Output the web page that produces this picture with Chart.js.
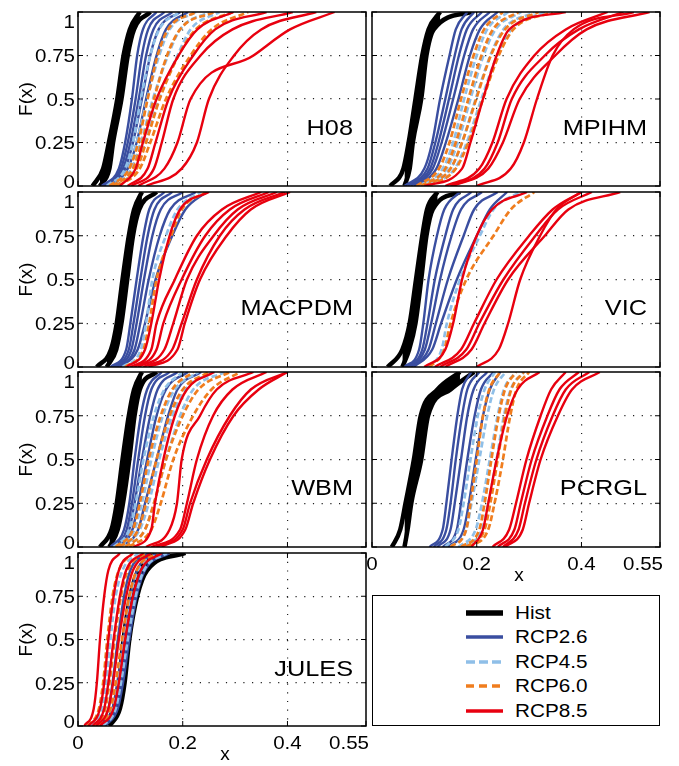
<!DOCTYPE html>
<html>
<head>
<meta charset="utf-8">
<script src="https://cdn.jsdelivr.net/npm/chart.js@4.4.1/dist/chart.umd.min.js"></script>
<style>
body { margin: 0; background: #fff; width: 679px; height: 766px; position: relative; overflow: hidden; font-family: "Liberation Sans", Arial, sans-serif; }
canvas.panel { position: absolute; left: 0; top: 0; }
#legend { position: absolute; left: 372px; top: 595px; width: 286px; height: 129px; border: 1.5px solid #000; }
.lrow { position: absolute; height: 24px; }
.lrow span { position: absolute; left: 49px; top: 0; line-height: 24px; font-size: 18px; transform: scaleX(1.15); transform-origin: left center; white-space: nowrap; }
.lrow svg { position: absolute; left: 0; top: 0; }
</style>
</head>
<body>
<div id="legend"></div>
<script>
const fLevels = [0, 0.1, 0.25, 0.5, 0.75, 0.9, 1];
const xTicks = [0, 0.2, 0.4, 0.55];
const xTickLabels = ['0', '0.2', '0.4', '0.55'];
const yTicks = [0, 0.25, 0.5, 0.75, 1];
const yTickLabels = ['0', '0.25', '0.5', '0.75', '1'];
const scenarios = ['Hist', 'RCP2.6', 'RCP4.5', 'RCP6.0', 'RCP8.5'];

// H08
const h08Hist = [[0.028, 0.048, 0.059, 0.075, 0.087, 0.099, 0.118], [0.042, 0.060, 0.067, 0.083, 0.095, 0.107, 0.138]];
const h08Rcp26 = [
  [0.045, 0.078, 0.090, 0.103, 0.113, 0.124, 0.150], [0.050, 0.082, 0.095, 0.110, 0.122, 0.134, 0.165],
  [0.055, 0.086, 0.100, 0.116, 0.130, 0.144, 0.180], [0.060, 0.090, 0.105, 0.122, 0.138, 0.154, 0.195],
  [0.065, 0.095, 0.112, 0.130, 0.150, 0.168, 0.210]];
const h08Rcp45 = [
  [0.055, 0.090, 0.105, 0.120, 0.138, 0.155, 0.195], [0.060, 0.096, 0.112, 0.132, 0.155, 0.175, 0.225],
  [0.066, 0.102, 0.120, 0.143, 0.172, 0.195, 0.250], [0.072, 0.110, 0.128, 0.155, 0.190, 0.215, 0.270]];
const h08Rcp60 = [
  [0.060, 0.098, 0.115, 0.133, 0.152, 0.172, 0.225], [0.066, 0.105, 0.122, 0.145, 0.170, 0.195, 0.260],
  [0.072, 0.112, 0.130, 0.156, 0.192, 0.225, 0.295], [0.078, 0.118, 0.138, 0.168, 0.215, 0.255, 0.325]];
const h08Rcp85 = [
  [0.080, 0.110, 0.124, 0.150, 0.192, 0.228, 0.297], [0.095, 0.133, 0.148, 0.173, 0.220, 0.262, 0.360],
  [0.102, 0.145, 0.160, 0.182, 0.234, 0.295, 0.410], [0.115, 0.165, 0.190, 0.215, 0.335, 0.405, 0.490],
  [0.130, 0.198, 0.227, 0.250, 0.298, 0.350, 0.455]];

// MPIHM
const mpihmHist = [[0.035, 0.060, 0.070, 0.083, 0.096, 0.108, 0.130], [0.062, 0.072, 0.078, 0.094, 0.104, 0.118, 0.190]];
const mpihmRcp26 = [
  [0.062, 0.100, 0.115, 0.130, 0.148, 0.160, 0.182], [0.068, 0.106, 0.121, 0.140, 0.158, 0.171, 0.195],
  [0.074, 0.111, 0.127, 0.147, 0.166, 0.181, 0.210], [0.080, 0.116, 0.133, 0.155, 0.176, 0.193, 0.225],
  [0.086, 0.123, 0.141, 0.165, 0.187, 0.206, 0.240]];
const mpihmRcp45 = [
  [0.090, 0.135, 0.155, 0.176, 0.200, 0.220, 0.260], [0.095, 0.143, 0.164, 0.188, 0.213, 0.236, 0.285],
  [0.100, 0.150, 0.172, 0.198, 0.226, 0.251, 0.310], [0.106, 0.158, 0.181, 0.209, 0.239, 0.266, 0.330]];
const mpihmRcp60 = [
  [0.085, 0.128, 0.148, 0.170, 0.194, 0.214, 0.250], [0.094, 0.140, 0.160, 0.184, 0.209, 0.231, 0.280],
  [0.102, 0.150, 0.172, 0.199, 0.227, 0.254, 0.318], [0.110, 0.160, 0.184, 0.212, 0.242, 0.270, 0.345]];
const mpihmRcp85 = [
  [0.100, 0.172, 0.188, 0.212, 0.238, 0.262, 0.370], [0.140, 0.205, 0.230, 0.257, 0.310, 0.370, 0.450],
  [0.150, 0.215, 0.240, 0.267, 0.330, 0.395, 0.480], [0.155, 0.222, 0.250, 0.282, 0.350, 0.410, 0.530],
  [0.200, 0.265, 0.290, 0.315, 0.345, 0.385, 0.500]];

// MACPDM
const macpdmHist = [[0.036, 0.063, 0.074, 0.085, 0.097, 0.107, 0.122], [0.055, 0.073, 0.083, 0.094, 0.105, 0.117, 0.150]];
const macpdmRcp26 = [
  [0.062, 0.092, 0.100, 0.112, 0.125, 0.136, 0.165], [0.066, 0.097, 0.106, 0.119, 0.133, 0.146, 0.180],
  [0.070, 0.102, 0.112, 0.126, 0.142, 0.158, 0.200], [0.075, 0.108, 0.119, 0.135, 0.156, 0.176, 0.225],
  [0.080, 0.114, 0.128, 0.148, 0.180, 0.205, 0.245]];
const macpdmRcp45 = [[0.085, 0.120, 0.130, 0.142, 0.168, 0.190, 0.235]];
const macpdmRcp60 = [[0.090, 0.125, 0.136, 0.150, 0.178, 0.198, 0.245]];
const macpdmRcp85 = [
  [0.093, 0.128, 0.140, 0.155, 0.175, 0.195, 0.250], [0.100, 0.140, 0.150, 0.185, 0.227, 0.275, 0.350],
  [0.108, 0.150, 0.163, 0.198, 0.243, 0.290, 0.365], [0.115, 0.165, 0.182, 0.208, 0.259, 0.305, 0.380],
  [0.125, 0.180, 0.198, 0.227, 0.271, 0.318, 0.395], [0.135, 0.190, 0.204, 0.233, 0.284, 0.330, 0.405]];

// VIC
const vicHist = [[0.030, 0.058, 0.072, 0.084, 0.096, 0.105, 0.125], [0.058, 0.071, 0.083, 0.094, 0.104, 0.116, 0.168]];
const vicRcp26 = [
  [0.062, 0.090, 0.098, 0.108, 0.124, 0.138, 0.168], [0.066, 0.096, 0.106, 0.120, 0.140, 0.155, 0.190],
  [0.070, 0.101, 0.113, 0.130, 0.152, 0.170, 0.210], [0.075, 0.108, 0.122, 0.145, 0.175, 0.195, 0.240],
  [0.080, 0.115, 0.132, 0.162, 0.200, 0.225, 0.258]];
const vicRcp45 = [[0.105, 0.133, 0.143, 0.168, 0.206, 0.232, 0.282]];
const vicRcp60 = [[0.110, 0.138, 0.150, 0.180, 0.232, 0.265, 0.310]];
const vicRcp85 = [
  [0.100, 0.140, 0.155, 0.172, 0.200, 0.229, 0.296], [0.120, 0.170, 0.195, 0.238, 0.300, 0.345, 0.400],
  [0.130, 0.180, 0.205, 0.251, 0.312, 0.355, 0.420], [0.140, 0.190, 0.215, 0.260, 0.330, 0.375, 0.474],
  [0.200, 0.242, 0.260, 0.283, 0.321, 0.352, 0.400]];

// WBM
const wbmHist = [[0.042, 0.064, 0.074, 0.085, 0.097, 0.107, 0.122], [0.060, 0.076, 0.086, 0.098, 0.108, 0.118, 0.150]];
const wbmRcp26 = [
  [0.062, 0.088, 0.098, 0.108, 0.120, 0.132, 0.160], [0.066, 0.093, 0.103, 0.115, 0.128, 0.140, 0.175],
  [0.070, 0.098, 0.108, 0.122, 0.138, 0.152, 0.190], [0.075, 0.104, 0.115, 0.132, 0.150, 0.168, 0.210],
  [0.082, 0.115, 0.128, 0.150, 0.172, 0.190, 0.235]];
const wbmRcp45 = [
  [0.068, 0.098, 0.110, 0.125, 0.145, 0.165, 0.200], [0.075, 0.108, 0.122, 0.140, 0.162, 0.185, 0.230],
  [0.082, 0.118, 0.135, 0.155, 0.180, 0.205, 0.260], [0.090, 0.128, 0.145, 0.168, 0.195, 0.220, 0.280]];
const wbmRcp60 = [
  [0.072, 0.105, 0.118, 0.135, 0.158, 0.180, 0.220], [0.080, 0.115, 0.130, 0.150, 0.175, 0.200, 0.250],
  [0.090, 0.128, 0.145, 0.168, 0.200, 0.230, 0.290], [0.098, 0.140, 0.158, 0.182, 0.220, 0.255, 0.310]];
const wbmRcp85 = [
  [0.106, 0.140, 0.147, 0.163, 0.185, 0.208, 0.260], [0.130, 0.175, 0.189, 0.198, 0.233, 0.265, 0.335],
  [0.140, 0.195, 0.208, 0.227, 0.258, 0.295, 0.360], [0.150, 0.200, 0.214, 0.246, 0.290, 0.330, 0.400],
  [0.160, 0.205, 0.220, 0.252, 0.297, 0.345, 0.400]];

// PCRGL
const pcrglHist = [[0.038, 0.054, 0.064, 0.080, 0.093, 0.125, 0.168], [0.062, 0.068, 0.075, 0.094, 0.107, 0.150, 0.195]];
const pcrglRcp26 = [
  [0.110, 0.135, 0.142, 0.152, 0.163, 0.172, 0.190], [0.118, 0.142, 0.150, 0.160, 0.172, 0.182, 0.205],
  [0.125, 0.150, 0.158, 0.170, 0.182, 0.194, 0.220], [0.135, 0.162, 0.170, 0.182, 0.196, 0.208, 0.232],
  [0.145, 0.175, 0.185, 0.198, 0.212, 0.225, 0.245]];
const pcrglRcp45 = [
  [0.140, 0.165, 0.175, 0.188, 0.202, 0.215, 0.235], [0.150, 0.180, 0.190, 0.205, 0.220, 0.233, 0.255],
  [0.165, 0.198, 0.210, 0.225, 0.240, 0.252, 0.275], [0.175, 0.210, 0.222, 0.238, 0.252, 0.265, 0.290]];
const pcrglRcp60 = [
  [0.150, 0.180, 0.188, 0.200, 0.212, 0.224, 0.245], [0.170, 0.205, 0.215, 0.228, 0.242, 0.254, 0.275],
  [0.180, 0.215, 0.226, 0.240, 0.254, 0.266, 0.290], [0.185, 0.222, 0.234, 0.250, 0.264, 0.276, 0.300]];
const pcrglRcp85 = [
  [0.190, 0.212, 0.222, 0.238, 0.258, 0.278, 0.320], [0.230, 0.262, 0.275, 0.295, 0.322, 0.342, 0.370],
  [0.240, 0.272, 0.284, 0.305, 0.335, 0.358, 0.395], [0.250, 0.280, 0.292, 0.314, 0.345, 0.370, 0.415],
  [0.255, 0.288, 0.300, 0.322, 0.355, 0.382, 0.435]];

// JULES
const julesHist = [[0.042, 0.068, 0.078, 0.087, 0.100, 0.115, 0.150], [0.060, 0.080, 0.089, 0.098, 0.113, 0.132, 0.205]];
const julesRcp26 = [
  [0.035, 0.058, 0.066, 0.076, 0.088, 0.100, 0.135], [0.042, 0.066, 0.075, 0.087, 0.100, 0.113, 0.150],
  [0.048, 0.072, 0.082, 0.094, 0.108, 0.122, 0.165], [0.052, 0.076, 0.086, 0.098, 0.112, 0.128, 0.175]];
const julesRcp45 = [
  [0.025, 0.046, 0.054, 0.062, 0.072, 0.085, 0.115], [0.040, 0.064, 0.074, 0.086, 0.100, 0.115, 0.155],
  [0.048, 0.072, 0.082, 0.095, 0.110, 0.126, 0.170]];
const julesRcp60 = [
  [0.018, 0.040, 0.048, 0.056, 0.066, 0.078, 0.105], [0.030, 0.052, 0.060, 0.070, 0.082, 0.095, 0.130],
  [0.038, 0.062, 0.072, 0.084, 0.098, 0.112, 0.150]];
const julesRcp85 = [
  [0.012, 0.030, 0.036, 0.042, 0.050, 0.058, 0.080], [0.020, 0.042, 0.050, 0.058, 0.068, 0.078, 0.105],
  [0.028, 0.050, 0.058, 0.068, 0.080, 0.092, 0.125], [0.035, 0.058, 0.067, 0.078, 0.092, 0.105, 0.140],
  [0.042, 0.068, 0.078, 0.090, 0.105, 0.120, 0.160]];

// styles per scenario
const lineColors = ['#000000', '#3a4ea0', '#8fbfe8', '#f07d1e', '#e8000f'];
const lineWidths = [4.5, 2.4, 2.7, 2.7, 2.4];
const lineDashes = [[], [], [6, 3], [6, 3], []];

const panels = [
  { name: 'H08', series: [h08Hist, h08Rcp26, h08Rcp45, h08Rcp60, h08Rcp85], box: [78, 366, 12, 186], yLab: true, xLab: false },
  { name: 'MPIHM', series: [mpihmHist, mpihmRcp26, mpihmRcp45, mpihmRcp60, mpihmRcp85], box: [372, 660, 12, 186], yLab: false, xLab: false },
  { name: 'MACPDM', series: [macpdmHist, macpdmRcp26, macpdmRcp45, macpdmRcp60, macpdmRcp85], box: [78, 366, 192, 367], yLab: true, xLab: false },
  { name: 'VIC', series: [vicHist, vicRcp26, vicRcp45, vicRcp60, vicRcp85], box: [372, 660, 192, 367], yLab: false, xLab: false },
  { name: 'WBM', series: [wbmHist, wbmRcp26, wbmRcp45, wbmRcp60, wbmRcp85], box: [78, 366, 372, 547], yLab: true, xLab: false },
  { name: 'PCRGL', series: [pcrglHist, pcrglRcp26, pcrglRcp45, pcrglRcp60, pcrglRcp85], box: [372, 660, 372, 547], yLab: false, xLab: true },
  { name: 'JULES', series: [julesHist, julesRcp26, julesRcp45, julesRcp60, julesRcp85], box: [78, 366, 553, 726], yLab: true, xLab: true }
];

const FONT = '"Liberation Sans", Arial, sans-serif';

function wideText(ctx, text, x, y, align, sx) {
  ctx.save();
  ctx.translate(x, y);
  ctx.scale(sx, 1);
  ctx.textAlign = align;
  ctx.fillText(text, 0, 0);
  ctx.restore();
}

// box, inward ticks and all texts, matlab style
const deco = {
  id: 'deco',
  afterDatasetsDraw(chart, args, opts) {
    const ctx = chart.ctx;
    const a = chart.chartArea;
    const xs = chart.scales.x, ys = chart.scales.y;
    ctx.save();
    ctx.strokeStyle = '#000';
    ctx.lineWidth = 1;
    ctx.beginPath();
    xTicks.forEach(v => {
      const px = xs.getPixelForValue(v);
      ctx.moveTo(px, a.bottom); ctx.lineTo(px, a.bottom - 5);
      ctx.moveTo(px, a.top); ctx.lineTo(px, a.top + 5);
    });
    yTicks.forEach(v => {
      const py = ys.getPixelForValue(v);
      ctx.moveTo(a.left, py); ctx.lineTo(a.left + 5, py);
      ctx.moveTo(a.right, py); ctx.lineTo(a.right - 5, py);
    });
    ctx.stroke();
    ctx.lineWidth = 1.5;
    ctx.strokeRect(a.left, a.top, a.right - a.left, a.bottom - a.top);

    ctx.fillStyle = '#000';
    ctx.textBaseline = 'alphabetic';
    ctx.font = '19px ' + FONT;
    if (opts.yLab) {
      yTicks.forEach((v, i) => {
        let cy = ys.getPixelForValue(v);
        if (v === 1) cy = a.top + 9;
        if (v === 0) cy = a.bottom - 5;
        wideText(ctx, yTickLabels[i], a.left - 3, cy + 6.8, 'right', 1.08);
      });
      ctx.save();
      ctx.translate(27, (a.top + a.bottom) / 2);
      ctx.rotate(-Math.PI / 2);
      ctx.textAlign = 'center';
      ctx.textBaseline = 'middle';
      ctx.fillText('F(x)', 0, 0);
      ctx.restore();
    }
    if (opts.xLab) {
      xTicks.forEach((v, i) => {
        const px = xs.getPixelForValue(v);
        const last = i === xTicks.length - 1;
        wideText(ctx, xTickLabels[i], last ? px + 3 : px, a.bottom + 23, last ? 'right' : 'center', 1.08);
      });
      ctx.textAlign = 'center';
      ctx.fillText('x', (a.left + a.right) / 2 + 3, a.bottom + 34);
    }
    ctx.font = '22px ' + FONT;
    wideText(ctx, opts.name, a.right - 13, a.top + 123, 'right', 1.15);
    ctx.restore();
  }
};

panels.forEach(p => {
  const canvas = document.createElement('canvas');
  canvas.className = 'panel';
  canvas.width = 679;
  canvas.height = 766;
  document.body.appendChild(canvas);

  const datasets = [];
  p.series.forEach((curves, s) => {
    curves.forEach((c, j) => {
      datasets.push({
        label: scenarios[s],
        data: c.map((xv, k) => ({ x: xv, y: fLevels[k] })),
        borderColor: lineColors[s],
        borderWidth: lineWidths[s],
        borderDash: lineDashes[s],
        borderCapStyle: 'butt',
        pointRadius: 0,
        cubicInterpolationMode: 'monotone',
        // the hist runs form one solid black band
        fill: (s === 0 && j > 0) ? '-1' : false,
        backgroundColor: lineColors[s],
        order: 4 - s
      });
    });
  });

  const [L, R, T, B] = p.box;
  const gridColor = (lo, hi) => c => (c.tick && c.tick.value > lo && c.tick.value < hi) ? '#222' : 'rgba(0,0,0,0)';

  new Chart(canvas, {
    type: 'line',
    data: { datasets },
    options: {
      responsive: false,
      animation: false,
      devicePixelRatio: 1,
      layout: { padding: { left: L, right: 679 - R, top: T, bottom: 766 - B } },
      plugins: {
        legend: { display: false },
        tooltip: { enabled: false },
        deco: { name: p.name, yLab: p.yLab, xLab: p.xLab }
      },
      scales: {
        x: {
          type: 'linear', min: 0, max: 0.55,
          afterBuildTicks: ax => { ax.ticks = xTicks.map(v => ({ value: v })); },
          afterFit: ax => { ax.height = 0; },
          ticks: { display: false },
          grid: { drawTicks: false, color: gridColor(0, 0.55), lineWidth: 1.2 },
          border: { display: false, dash: [1.2, 7.5] }
        },
        y: {
          type: 'linear', min: 0, max: 1,
          afterBuildTicks: ax => { ax.ticks = yTicks.map(v => ({ value: v })); },
          afterFit: ax => { ax.width = 0; },
          ticks: { display: false },
          grid: { drawTicks: false, color: gridColor(0, 1), lineWidth: 1.2 },
          border: { display: false, dash: [1.2, 7.5] }
        }
      }
    },
    plugins: [deco]
  });
});

// legend box
const legend = document.getElementById('legend');
scenarios.forEach((name, i) => {
  const row = document.createElement('div');
  row.className = 'lrow';
  row.style.left = (466 - 373.5) + 'px';
  row.style.top = (613 + 24.5 * i - 12 - 596.5) + 'px';
  const dash = i === 2 ? '9 4' : (i === 3 ? '8 5' : 'none');
  const w = i === 0 ? 5.5 : 3.6;
  row.innerHTML = '<svg width="38" height="24"><line x1="0" y1="12" x2="37" y2="12" stroke="' + lineColors[i] +
    '" stroke-width="' + w + '" stroke-dasharray="' + dash + '"/></svg><span>' + name + '</span>';
  legend.appendChild(row);
});
</script>
</body>
</html>
